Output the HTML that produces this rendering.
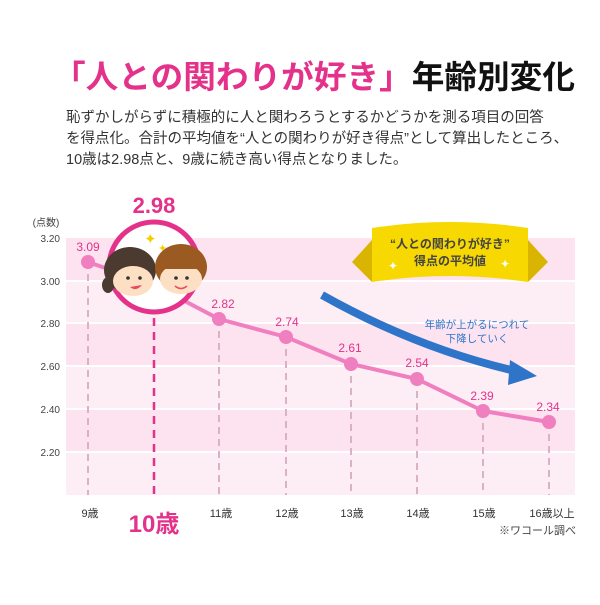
<!DOCTYPE html>
<html><head><meta charset="utf-8"><style>
body{margin:0;width:600px;height:600px;background:#fff;overflow:hidden;font-family:"Liberation Sans","Noto Sans CJK JP",sans-serif}
svg text{font-family:"Liberation Sans","Noto Sans CJK JP",sans-serif}
</style></head><body>
<svg width="600" height="600" viewBox="0 0 600 600">
<text x="53" y="88" font-size="32" font-weight="bold" textLength="522" lengthAdjust="spacingAndGlyphs"><tspan fill="#e4318a">「人との関わりが好き」</tspan><tspan fill="#111">年齢別変化</tspan></text>
<g font-size="14.5" fill="#333">
<text x="66" y="122">恥ずかしがらずに積極的に人と関わろうとするかどうかを測る項目の回答</text>
<text x="66" y="143">を得点化。合計の平均値を“人との関わりが好き得点”として算出したところ、</text>
<text x="66" y="164">10歳は2.98点と、9歳に続き高い得点となりました。</text>
</g>
<rect x="66" y="238" width="509" height="43" fill="#fde3ef"/>
<rect x="66" y="281" width="509" height="42" fill="#fdeef5"/>
<rect x="66" y="323" width="509" height="43" fill="#fde3ef"/>
<rect x="66" y="366" width="509" height="43" fill="#fdeef5"/>
<rect x="66" y="409" width="509" height="43" fill="#fde3ef"/>
<rect x="66" y="452" width="509" height="43" fill="#fdeef5"/>
<g stroke="#fff" stroke-width="2"><line x1="66" x2="575" y1="281" y2="281"/><line x1="66" x2="575" y1="323" y2="323"/><line x1="66" x2="575" y1="366" y2="366"/><line x1="66" x2="575" y1="409" y2="409"/><line x1="66" x2="575" y1="452" y2="452"/></g>
<g font-size="10" fill="#444" text-anchor="end">
<text x="46" y="226" text-anchor="middle">(点数)</text>
<text x="60" y="242">3.20</text><text x="60" y="285">3.00</text><text x="60" y="327">2.80</text><text x="60" y="370">2.60</text><text x="60" y="413">2.40</text><text x="60" y="456">2.20</text>
</g>
<g stroke="#d9b3c3" stroke-width="2" stroke-dasharray="7,5">
<line x1="88" x2="88" y1="262" y2="495"/><line x1="219" x2="219" y1="319" y2="495"/><line x1="286" x2="286" y1="337" y2="495"/><line x1="351" x2="351" y1="364" y2="495"/><line x1="417" x2="417" y1="379" y2="495"/><line x1="483" x2="483" y1="411" y2="495"/><line x1="549" x2="549" y1="422" y2="495"/>
</g>
<line x1="154" x2="154" y1="318" y2="495" stroke="#e4318a" stroke-width="2.5" stroke-dasharray="8,6"/>
<polyline points="88,262 154,285 219,319 286,337 351,364 417,379 483,411 549,422" fill="none" stroke="#f07fbf" stroke-width="4"/>
<g fill="#f07fbf"><circle cx="88" cy="262" r="7"/><circle cx="219" cy="319" r="7"/><circle cx="286" cy="337" r="7"/><circle cx="351" cy="364" r="7"/><circle cx="417" cy="379" r="7"/><circle cx="483" cy="411" r="7"/><circle cx="549" cy="422" r="7"/></g>
<g font-size="12" fill="#e4318a" text-anchor="middle">
<text x="88" y="251">3.09</text><text x="223" y="308">2.82</text><text x="287" y="326">2.74</text><text x="350" y="352">2.61</text><text x="417" y="367">2.54</text><text x="482" y="400">2.39</text><text x="548" y="411">2.34</text>
</g>
<circle cx="154" cy="267" r="45" fill="#fff" stroke="#e4318a" stroke-width="5"/>
<text x="154" y="213" text-anchor="middle" font-size="22" font-weight="bold" fill="#e4318a">2.98</text>
<text x="144" y="244" font-size="15" fill="#f5d000">✦</text><text x="158" y="252" font-size="11" fill="#f5d000">✦</text>
<ellipse cx="130" cy="270" rx="26" ry="23" fill="#4a3a30"/>
<ellipse cx="108" cy="285" rx="6" ry="8" fill="#4a3a30"/>
<ellipse cx="133" cy="281" rx="20" ry="15" fill="#fde0c4"/>
<circle cx="128" cy="278" r="1.8" fill="#333"/><circle cx="140" cy="278" r="1.8" fill="#333"/>
<path d="M130,287 Q136,292 142,285 Z" fill="#e84a5f"/>
<ellipse cx="181" cy="267" rx="26" ry="23" fill="#9a5a22"/>
<ellipse cx="181" cy="279" rx="21" ry="15" fill="#fde0c4"/>
<rect x="164" y="262" width="34" height="7" fill="#9a5a22"/>
<circle cx="176" cy="278" r="1.8" fill="#333"/><circle cx="187" cy="278" r="1.8" fill="#333"/>
<path d="M175,286 Q181,291 187,286" fill="none" stroke="#e84a5f" stroke-width="1.5"/>
<polygon points="352,262 372,240 372,282" fill="#d9b400"/>
<polygon points="548,262 528,240 528,282" fill="#d9b400"/>
<path d="M372,228 Q450,216 528,228 L528,282 Q450,270 372,282 Z" fill="#f7d800"/>
<text x="450" y="248" text-anchor="middle" font-size="12" font-weight="bold" fill="#444">“人との関わりが好き”</text>
<text x="450" y="265" text-anchor="middle" font-size="12" font-weight="bold" fill="#444">得点の平均値</text>
<text x="388" y="270" font-size="12" fill="#fff">✦</text><text x="500" y="268" font-size="12" fill="#fff">✦</text>
<path d="M322,295 Q420,350 520,372" fill="none" stroke="#2e74c9" stroke-width="8"/>
<polygon points="510,360 537,376 508,385" fill="#2e74c9"/>
<text x="477" y="328" text-anchor="middle" font-size="10.5" fill="#2e74c9">年齢が上がるにつれて</text>
<text x="477" y="342" text-anchor="middle" font-size="10.5" fill="#2e74c9">下降していく</text>
<g font-size="11" fill="#333" text-anchor="middle">
<text x="90" y="517">9歳</text><text x="221" y="517">11歳</text><text x="287" y="517">12歳</text><text x="352" y="517">13歳</text><text x="418" y="517">14歳</text><text x="484" y="517">15歳</text><text x="552" y="517">16歳以上</text>
</g>
<text x="154" y="532" text-anchor="middle" font-size="24" font-weight="bold" fill="#e4318a">10歳</text>
<text x="576" y="534" text-anchor="end" font-size="11" fill="#444">※ワコール調べ</text>
</svg>
</body></html>
